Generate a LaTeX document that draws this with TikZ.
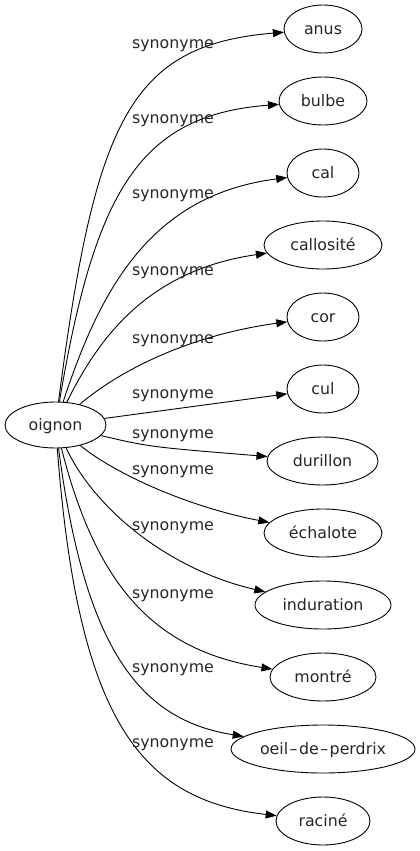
\documentclass[tikz,border=0pt]{standalone}
\usepackage{fontspec}
\setmainfont{DejaVu Sans}
\usetikzlibrary{shapes.geometric,arrows.meta}

\begin{document}
\begin{tikzpicture}[x=1pt,y=-1pt,
    word/.style={ellipse,draw,line width=0.9pt,inner sep=0pt,minimum height=48pt,
        text height=12pt,text depth=0.6pt,font=\fontsize{15.8}{19}\selectfont,text=black!85},
    rel/.style={inner sep=0pt,text height=12pt,text depth=0.6pt,
        font=\fontsize{15.8}{19}\selectfont,text=black!85},
    syn/.style={line width=0.9pt,-{Triangle[length=11pt,width=8pt]}}
]

\useasboundingbox (0,0) rectangle (420,851);

% Words
\node[word,minimum width=101pt,minimum height=46pt] (oignon) at (55.5,425) {oignon};
\node[word,minimum width=78pt] (anus) at (323,29) {anus};
\node[word,minimum width=88pt] (bulbe) at (323,101) {bulbe};
\node[word,minimum width=72pt] (cal) at (323,173) {cal};
\node[word,minimum width=118pt] (callosite) at (323,245) {callosité};
\node[word,minimum width=72pt] (cor) at (323,317) {cor};
\node[word,minimum width=72pt] (cul) at (323,389) {cul};
\node[word,minimum width=111pt] (durillon) at (322.5,461) {durillon};
\node[word,minimum width=118pt] (echalote) at (323,533) {échalote};
\node[word,minimum width=136pt] (induration) at (323,605) {induration};
\node[word,minimum width=106pt] (montre) at (323,677) {montré};
\node[word,minimum width=184pt] (oeil) at (323,749) {oeil\kern1.5pt–\kern1.5pt de\kern1.5pt–\kern1.5pt perdrix};
\node[word,minimum width=94pt] (racine) at (323,821) {raciné};

% Edges
\draw[syn] (oignon) .. controls (95,120) and (130,45) .. (anus);
\draw[syn] (oignon) .. controls (95,190) and (140,115) .. (bulbe);
\draw[syn] (oignon) .. controls (100,290) and (150,195) .. (cal);
\draw[syn] (oignon) .. controls (100,335) and (150,270) .. (callosite);
\draw[syn] (oignon) .. controls (120,370) and (190,335) .. (cor);
\draw[syn] (oignon) -- (cul);
\draw[syn] (oignon) .. controls (150,447) .. (durillon);
\draw[syn] (oignon) .. controls (110,470) and (180,505) .. (echalote);
\draw[syn] (oignon) .. controls (95,510) and (170,570) .. (induration);
\draw[syn] (oignon) .. controls (95,580) and (150,650) .. (montre);
\draw[syn] (oignon) .. controls (85,650) and (140,720) .. (oeil);
\draw[syn] (oignon) .. controls (78,720) and (140,800) .. (racine);

% Labels
\node[rel] (s1) at (173,43) {synonyme};
\node[rel] (s2) at (173,118) {synonyme};
\node[rel] (s3) at (173,193) {synonyme};
\node[rel] (s4) at (173,270) {synonyme};
\node[rel] (s5) at (173,338) {synonyme};
\node[rel] (s6) at (173,393) {synonyme};
\node[rel] (s7) at (173,433) {synonyme};
\node[rel] (s8) at (173,469) {synonyme};
\node[rel] (s9) at (173,525) {synonyme};
\node[rel] (s10) at (173,593) {synonyme};
\node[rel] (s11) at (173,667) {synonyme};
\node[rel] (s12) at (173,742) {synonyme};

\end{tikzpicture}
\end{document}
